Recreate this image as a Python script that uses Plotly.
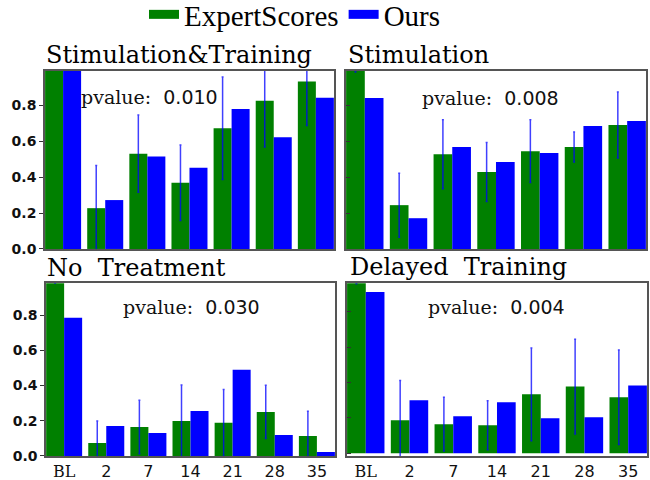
import plotly.graph_objects as go

categories = ["BL", "2", "7", "14", "21", "28", "35"]
tick_labels = ["<span style='font-family:DejaVu Serif'>BL</span>", "2", "7", "14", "21", "28", "35"]
panel_titles = ["Stimulation&Training", "Stimulation", "No\u00a0 Treatment", "Delayed\u00a0 Training"]
pvalues = ["0.010", "0.008", "0.030", "0.004"]
series_names = ["ExpertScores", "Ours"]

# Stimulation&Training
expert_st = [1.00, 0.227, 0.530, 0.368, 0.672, 0.824, 0.931]
ours_st = [1.00, 0.272, 0.514, 0.452, 0.779, 0.621, 0.841]
err_st = [0.00, 0.238, 0.215, 0.210, 0.285, 0.257, 0.244]
# Stimulation
expert_s = [1.00, 0.245, 0.530, 0.430, 0.547, 0.570, 0.693]
ours_s = [0.844, 0.172, 0.570, 0.486, 0.536, 0.687, 0.715]
err_s = [0.01, 0.179, 0.193, 0.165, 0.176, 0.084, 0.184]
# No Treatment
expert_nt = [1.00, 0.074, 0.165, 0.199, 0.188, 0.250, 0.114]
ours_nt = [0.784, 0.170, 0.131, 0.256, 0.489, 0.119, 0.023]
err_nt = [0.02, 0.125, 0.152, 0.204, 0.190, 0.151, 0.140]
# Delayed Training
expert_dt = [1.00, 0.187, 0.165, 0.159, 0.334, 0.378, 0.317]
ours_dt = [0.913, 0.300, 0.210, 0.289, 0.199, 0.204, 0.384]
err_dt = [0.04, 0.225, 0.152, 0.138, 0.262, 0.268, 0.267]

expert = [expert_st, expert_s, expert_nt, expert_dt]
ours = [ours_st, ours_s, ours_nt, ours_dt]
errs = [err_st, err_s, err_nt, err_dt]

GREEN = "#008000"
BLUE = "#0000ff"

x_domains = [[0.0692, 0.5138], [0.5323, 0.9938], [0.0708, 0.5154], [0.5338, 0.9954]]
y_domains = [[0.4813, 0.8521], [0.4813, 0.8521], [0.0500, 0.4098], [0.0500, 0.4098]]
y_ranges = [[0, 0.99], [0, 0.995], [0, 0.98], [-0.015, 0.962]]
title_pos = [(44, 55), (346, 55), (45, 268), (348, 267)]
pval_pos = [(149, 97), (490, 98), (191, 307), (496, 307)]

fig = go.Figure()
for i in range(4):
    xa = "x" if i == 0 else f"x{i+1}"
    ya = "y" if i == 0 else f"y{i+1}"
    fig.add_trace(go.Bar(
        x=categories, y=expert[i], name=series_names[0], marker_color=GREEN,
        marker_line_width=0, showlegend=False,
        error_y=dict(type="data", array=errs[i], visible=True,
                     color="rgba(0,0,255,0.75)", thickness=1.5, width=1),
        xaxis=xa, yaxis=ya))
    fig.add_trace(go.Bar(
        x=categories, y=ours[i], name=series_names[1], marker_color=BLUE,
        marker_line_width=0, showlegend=False,
        xaxis=xa, yaxis=ya))

# legend entries (wide swatches like the reference)
for name, col in zip(series_names, [GREEN, BLUE]):
    fig.add_trace(go.Scatter(x=[None], y=[None], mode="lines", name=name,
                             line=dict(color=col, width=9), showlegend=True,
                             xaxis="x", yaxis="y"))

layout = dict(
    width=650, height=480,
    margin=dict(l=0, r=0, t=0, b=0, autoexpand=False),
    paper_bgcolor="white", plot_bgcolor="white",
    barmode="group", bargap=0.145, bargroupgap=0,
    showlegend=True,
    legend=dict(orientation="h", x=144 / 650, xanchor="left", y=1 - 14.5 / 480, yanchor="middle",
                font=dict(family="Liberation Serif", size=29, color="black"),
                tracegroupgap=0, bgcolor="rgba(0,0,0,0)"),
)
for i in range(4):
    sx = "" if i == 0 else str(i + 1)
    bottom = i >= 2
    left = i % 2 == 0
    layout["xaxis" + sx] = dict(
        domain=x_domains[i], anchor="y" + sx, type="category",
        categoryorder="array", categoryarray=categories,
        tickvals=categories, ticktext=tick_labels,
        range=[-0.43, 6.43], showline=True, mirror=True, linecolor="#555",
        linewidth=1.5, showgrid=False, zeroline=False, ticks="",
        showticklabels=bottom,
        tickfont=dict(family="DejaVu Sans", size=16, color="#111"),
    )
    layout["yaxis" + sx] = dict(
        domain=y_domains[i], anchor="x" + sx, range=y_ranges[i],
        tickvals=[0, 0.2, 0.4, 0.6, 0.8], ticktext=["0.0", "0.2", "0.4", "0.6", "0.8"],
        showline=True, mirror=True, linecolor="#555", linewidth=1.5,
        showgrid=False, zeroline=False,
        ticks="outside" if left else "inside", ticklen=4, tickcolor="#333",
        showticklabels=left,
        tickfont=dict(family="DejaVu Sans", size=14, color="#111", weight="bold"),
    )
fig.update_layout(**layout)

annotations = []
for i in range(4):
    tx, ty = title_pos[i]
    annotations.append(dict(
        text=panel_titles[i], xref="paper", yref="paper",
        x=tx / 650, y=1 - ty / 480, xanchor="left", yanchor="middle",
        showarrow=False, font=dict(family="DejaVu Serif", size=24, color="black")))
    px, py = pval_pos[i]
    annotations.append(dict(
        text="pvalue:\u00a0 <span style='font-family:DejaVu Sans'>" + pvalues[i] + "</span>",
        xref="paper", yref="paper", x=px / 650, y=1 - py / 480,
        xanchor="center", yanchor="middle", showarrow=False,
        font=dict(family="DejaVu Serif", size=19, color="#111")))
fig.update_layout(annotations=annotations)

fig.write_html("out.html", config={"displayModeBar": False},
               post_script="document.body.style.margin='0';document.body.style.padding='0';")
